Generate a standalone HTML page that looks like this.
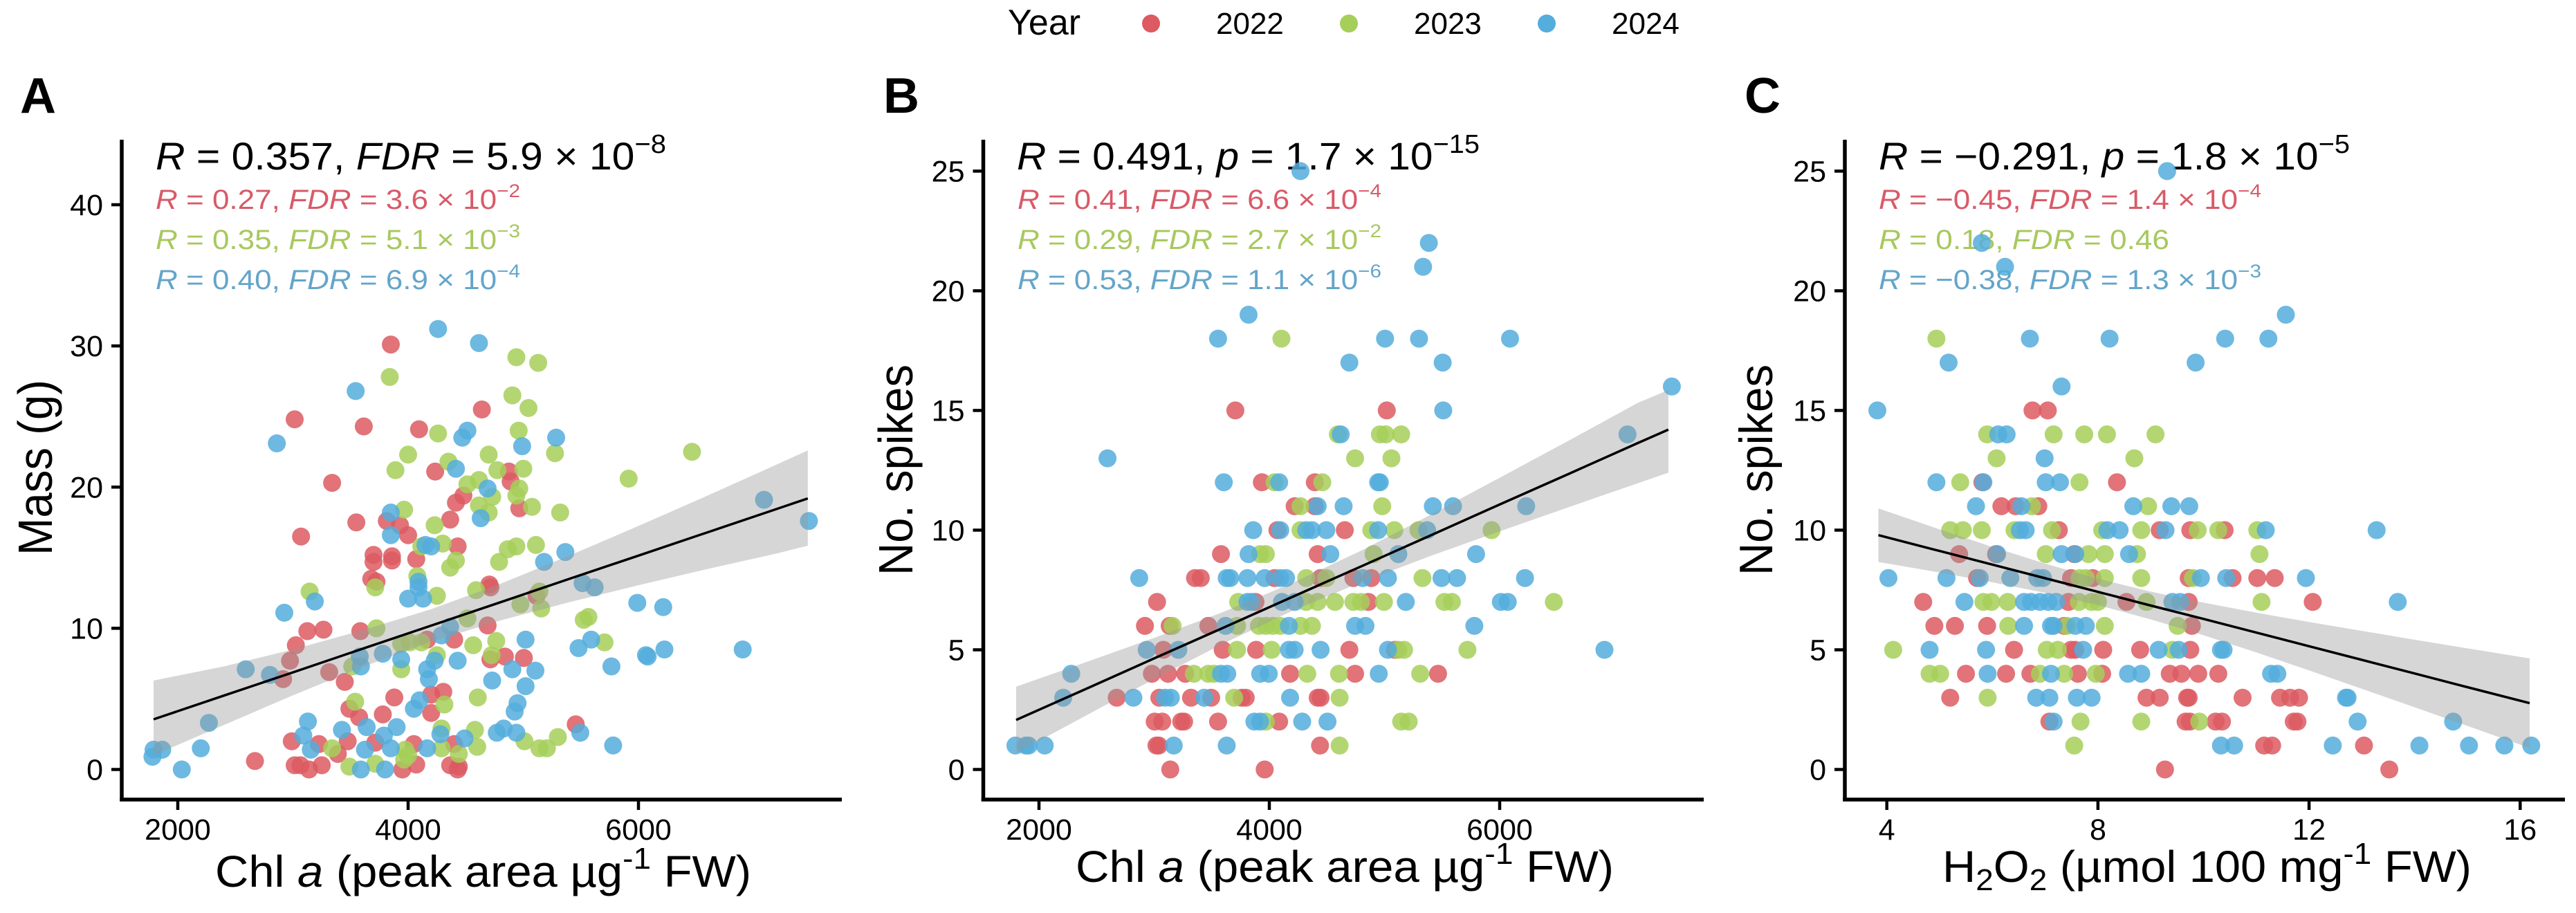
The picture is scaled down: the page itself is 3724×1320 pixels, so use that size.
<!DOCTYPE html>
<html lang="en">
<head>
<meta charset="utf-8">
<title>Chlorophyll and H2O2 correlations</title>
<style>
html,body{margin:0;padding:0;background:#fff;}
svg{display:block;}
text{font-family:"Liberation Sans",Arial,sans-serif;fill:#000;}
.tick{font-size:43px;}
.xt{font-size:64px;}
.big{font-size:56px;}
.sm{font-size:40px;}
.r{fill:#D85A68;}
.g{fill:#A8C85E;}
.b{fill:#64A5C9;}
.i{font-style:italic;}
.letter{font-size:72px;font-weight:bold;}
</style>
</head>
<body>
<svg id="chart" xmlns="http://www.w3.org/2000/svg" width="3724" height="1320" viewBox="0 0 3724 1320">
<rect width="3724" height="1320" fill="#fff"/>

<g>
<text x="1457" y="50" font-size="52">Year</text>
<circle cx="1664" cy="34" r="13" fill="#DC5A62"/>
<text x="1758" y="49" font-size="44">2022</text>
<circle cx="1950" cy="34" r="13" fill="#A6CF59"/>
<text x="2044" y="49" font-size="44">2023</text>
<circle cx="2236" cy="34" r="13" fill="#54ADDC"/>
<text x="2330" y="49" font-size="44">2024</text>
</g>

<text class="letter" x="29" y="163">A</text>
<text class="letter" x="1277" y="163">B</text>
<text class="letter" x="2522" y="163">C</text>

<g>
<text class="big" x="225" y="245" textLength="738" lengthAdjust="spacingAndGlyphs"><tspan class="i">R</tspan> = 0.357, <tspan class="i">FDR</tspan> = 5.9 × 10<tspan font-size="38" dy="-24">−8</tspan></text>
<text class="sm r" x="225" y="302" textLength="527" lengthAdjust="spacingAndGlyphs"><tspan class="i">R</tspan> = 0.27, <tspan class="i">FDR</tspan> = 3.6 × 10<tspan font-size="27" dy="-17">−2</tspan></text>
<text class="sm g" x="225" y="360" textLength="527" lengthAdjust="spacingAndGlyphs"><tspan class="i">R</tspan> = 0.35, <tspan class="i">FDR</tspan> = 5.1 × 10<tspan font-size="27" dy="-17">−3</tspan></text>
<text class="sm b" x="225" y="418" textLength="527" lengthAdjust="spacingAndGlyphs"><tspan class="i">R</tspan> = 0.40, <tspan class="i">FDR</tspan> = 6.9 × 10<tspan font-size="27" dy="-17">−4</tspan></text>
</g>
<g>
<text class="big" x="1470" y="245" textLength="669" lengthAdjust="spacingAndGlyphs"><tspan class="i">R</tspan> = 0.491, <tspan class="i">p</tspan> = 1.7 × 10<tspan font-size="38" dy="-24">−15</tspan></text>
<text class="sm r" x="1471" y="302" textLength="526" lengthAdjust="spacingAndGlyphs"><tspan class="i">R</tspan> = 0.41, <tspan class="i">FDR</tspan> = 6.6 × 10<tspan font-size="27" dy="-17">−4</tspan></text>
<text class="sm g" x="1471" y="360" textLength="526" lengthAdjust="spacingAndGlyphs"><tspan class="i">R</tspan> = 0.29, <tspan class="i">FDR</tspan> = 2.7 × 10<tspan font-size="27" dy="-17">−2</tspan></text>
<text class="sm b" x="1471" y="418" textLength="526" lengthAdjust="spacingAndGlyphs"><tspan class="i">R</tspan> = 0.53, <tspan class="i">FDR</tspan> = 1.1 × 10<tspan font-size="27" dy="-17">−6</tspan></text>
</g>
<g>
<text class="big" x="2716" y="245" textLength="681" lengthAdjust="spacingAndGlyphs"><tspan class="i">R</tspan> = −0.291, <tspan class="i">p</tspan> = 1.8 × 10<tspan font-size="38" dy="-24">−5</tspan></text>
<text class="sm r" x="2716" y="302" textLength="553" lengthAdjust="spacingAndGlyphs"><tspan class="i">R</tspan> = −0.45, <tspan class="i">FDR</tspan> = 1.4 × 10<tspan font-size="27" dy="-17">−4</tspan></text>
<text class="sm g" x="2716" y="360" textLength="420" lengthAdjust="spacingAndGlyphs"><tspan class="i">R</tspan> = 0.18, <tspan class="i">FDR</tspan> = 0.46</text>
<text class="sm b" x="2716" y="418" textLength="553" lengthAdjust="spacingAndGlyphs"><tspan class="i">R</tspan> = −0.38, <tspan class="i">FDR</tspan> = 1.3 × 10<tspan font-size="27" dy="-17">−3</tspan></text>
</g>

<text class="xt" x="311" y="1282" textLength="775" lengthAdjust="spacingAndGlyphs">Chl <tspan class="i">a</tspan> (peak area µg<tspan font-size="44" dy="-26">-1</tspan><tspan dy="26"> FW)</tspan></text>
<text class="xt" x="1555" y="1275" textLength="778" lengthAdjust="spacingAndGlyphs">Chl <tspan class="i">a</tspan> (peak area µg<tspan font-size="44" dy="-26">-1</tspan><tspan dy="26"> FW)</tspan></text>
<text class="xt" x="2808" y="1275" textLength="765" lengthAdjust="spacingAndGlyphs">H<tspan font-size="44" dy="12">2</tspan><tspan dy="-12">O</tspan><tspan font-size="44" dy="12">2</tspan><tspan dy="-12"> (µmol 100 mg</tspan><tspan font-size="44" dy="-26">-1</tspan><tspan dy="26"> FW)</tspan></text>

<text class="xt" transform="translate(75 803) rotate(-90)" x="0" y="0" style="font-size:70px" textLength="254" lengthAdjust="spacingAndGlyphs">Mass (g)</text>
<text class="xt" transform="translate(1319 832) rotate(-90)" x="0" y="0" style="font-size:70px" textLength="305" lengthAdjust="spacingAndGlyphs">No. spikes</text>
<text class="xt" transform="translate(2562 832) rotate(-90)" x="0" y="0" style="font-size:68px" textLength="305" lengthAdjust="spacingAndGlyphs">No. spikes</text>

<g id="plot-layer"></g>
</svg>

<script>
// ---------- Panel A: Chl a vs Mass ----------
const panelAXTicks = [2000, 4000, 6000];
const panelAYTicks = [0, 10, 20, 30, 40];
const panelARed = [[3850,30.1],[3015,24.8],[3615,24.3],[4095,24.1],[4640,25.5],[4235,21.1],[4875,21.1],[3340,20.3],[4890,20.4],[4480,19.4],[4415,18.9],[4965,18.5],[4365,17.7],[3550,17.5],[3815,17.6],[3930,17.3],[3070,16.5],[4000,16.6],[4430,15.8],[3700,15.2],[3700,14.7],[3860,15.1],[3860,14.8],[4070,14.9],[3680,13.5],[3725,13.3],[4705,13.1],[4715,12.9],[5115,12.3],[3125,9.8],[3265,9.9],[3585,9.8],[4690,10.2],[3025,8.8],[2975,7.7],[4165,9.2],[4400,9.2],[4840,8.0],[5005,7.9],[4715,7.8],[2915,6.4],[3315,6.9],[3450,6.2],[3880,5.1],[4305,5.5],[4200,5.3],[3490,4.3],[3575,3.7],[3780,3.9],[4200,4.0],[5455,3.2],[2990,2.0],[3225,1.8],[3475,2.0],[3390,1.1],[3715,1.9],[4050,1.8],[4400,1.8],[2670,0.6],[3015,0.3],[3065,0.3],[3140,0],[3250,0.3],[3950,0],[4070,0.35],[4365,0.3],[4440,0.2],[4430,0]];
const panelAGreen = [[4940,29.2],[5130,28.8],[3840,27.8],[4905,26.5],[5045,25.6],[4960,24.0],[4260,23.8],[5275,22.4],[6465,22.5],[4000,22.3],[4700,22.3],[4350,21.8],[3890,21.2],[5000,21.3],[4775,21.2],[5915,20.6],[4615,20.5],[4515,20.2],[4965,19.9],[4730,19.3],[4940,19.4],[4615,18.7],[4700,18.2],[5075,18.6],[5320,18.2],[3965,18.4],[4230,17.3],[4300,16.0],[4115,15.8],[4940,15.8],[4865,15.6],[5110,15.9],[4415,14.8],[4365,14.3],[4790,14.7],[4080,13.7],[3715,12.9],[3145,12.6],[4250,12.3],[4590,12.7],[5140,12.6],[4975,11.7],[5155,11.4],[5565,10.8],[5525,10.6],[4515,10.7],[3725,10.0],[4115,9.0],[4015,9.0],[3940,8.9],[4765,9.1],[4565,8.8],[5705,9.0],[4250,8.1],[4725,8.1],[3515,7.3],[3940,7.1],[3540,4.8],[4315,4.6],[4605,5.1],[4290,2.9],[4580,2.8],[5300,2.3],[5010,2.0],[5140,1.5],[5205,1.5],[4600,1.6],[4290,1.5],[4440,1.1],[3340,1.5],[3975,1.4],[4000,1.0],[3965,0.7],[3490,0.2],[3715,0.4]];
const panelABlue = [[4260,31.2],[4615,30.2],[3545,26.8],[4515,24.0],[4470,23.5],[5285,23.5],[4990,22.9],[2860,23.1],[4415,21.3],[4690,19.9],[3850,18.2],[4630,17.8],[3850,16.6],[4150,15.9],[4200,15.8],[5365,15.4],[5180,14.7],[4090,13.3],[4090,12.9],[5515,13.2],[5620,12.9],[4000,12.1],[4130,12.1],[3190,11.9],[2925,11.1],[5990,11.8],[6215,11.5],[4365,10.1],[4290,9.5],[5020,9.2],[5590,9.2],[5480,8.6],[6225,8.5],[6065,8.1],[6080,8.0],[6905,8.5],[3780,8.2],[3580,8.0],[3590,7.3],[3940,7.8],[4430,7.7],[4230,7.7],[4165,7.1],[4180,6.4],[2590,7.1],[2800,6.7],[4905,7.1],[5105,7.0],[4730,6.3],[5020,5.9],[5765,7.3],[4100,4.9],[4050,4.3],[4950,4.7],[4925,4.1],[2270,3.3],[3130,3.4],[3090,2.4],[3425,2.8],[3640,3.0],[3900,3.0],[3790,2.4],[4280,2.5],[4770,2.6],[4830,2.9],[4940,2.6],[5495,2.6],[4490,2.2],[5780,1.7],[2200,1.5],[1865,1.4],[1790,1.4],[1780,0.9],[2035,0],[3155,1.4],[3625,1.4],[3850,1.5],[4165,1.5],[3590,0],[3800,0],[7090,19.1],[7480,17.6]];
const panelAFitX = [1790, 2400, 3000, 3600, 4200, 4800, 5400, 6000, 6600, 7200, 7470];
const panelAFitY = [3.55, 5.23, 6.88, 8.54, 10.19, 11.84, 13.5, 15.15, 16.8, 18.45, 19.2];
const panelAUpper = [6.3, 7.3, 8.5, 9.85, 11.35, 13.15, 15.15, 17.25, 19.4, 21.6, 22.6];
const panelALower = [1.0, 3.15, 5.25, 7.25, 9.05, 10.55, 11.85, 13.05, 14.2, 15.3, 15.85];

// ---------- Panel B: Chl a vs No. spikes ----------
const panelBXTicks = [2000, 4000, 6000];
const panelBYTicks = [0, 5, 10, 15, 20, 25];
const panelBRed = [[3705,15],[5020,15],[3935,12],[4395,12],[4220,11],[4395,11],[4070,10],[4655,10],[3580,9],[4420,9],[3355,8],[3405,8],[4045,8],[4445,8],[4730,8],[4885,8],[3025,7],[3880,7],[4860,7],[2920,6],[3135,6],[3470,6],[3080,5],[3595,5],[3885,5],[4695,5],[5090,5],[2980,4],[3120,4],[3270,4],[4180,4],[4745,4],[5465,4],[2675,3],[3045,3],[3320,3],[3495,3],[3795,3],[3760,3],[4420,3],[4445,3],[3005,2],[3070,2],[3235,2],[3260,2],[3555,2],[4085,2],[3020,1],[3040,1],[4440,1],[3140,0],[3960,0]];
const panelBGreen = [[4105,18],[4595,14],[4960,14],[5010,14],[5145,14],[4745,13],[5060,13],[4045,12],[4460,12],[4270,11],[4980,11],[4270,10],[4885,10],[5085,10],[5295,10],[5930,10],[3920,9],[3970,9],[4905,9],[4320,8],[4495,8],[5330,8],[3730,7],[4320,7],[4420,7],[4570,7],[4730,7],[4795,7],[4995,7],[5520,7],[5585,7],[6470,7],[3160,6],[3720,6],[3910,6],[3970,6],[4030,6],[4095,6],[4270,6],[4370,6],[3720,5],[4020,5],[5120,5],[5170,5],[5720,5],[3345,4],[3470,4],[3520,4],[4330,4],[4605,4],[5310,4],[3695,3],[4610,3],[3970,2],[5145,2],[5210,2],[4610,1]];
const panelBBlue = [[4270,25],[5385,22],[5335,21],[3820,19],[3555,18],[5005,18],[5300,18],[6090,18],[4695,17],[5505,17],[7495,16],[5510,15],[4620,14],[7110,14],[2595,13],[3605,12],[4085,12],[4945,12],[4960,12],[4420,11],[4645,11],[5420,11],[5595,11],[6230,11],[3860,10],[4095,10],[4320,10],[4370,10],[4495,10],[4945,10],[5370,10],[3820,9],[4530,9],[5120,9],[5795,9],[2870,8],[3630,8],[3660,8],[3810,8],[3960,8],[4095,8],[4145,8],[4810,8],[5030,8],[5495,8],[5630,8],[6220,8],[3810,7],[3845,7],[4110,7],[4220,7],[5185,7],[6010,7],[6070,7],[3620,6],[4170,6],[4745,6],[4835,6],[5780,6],[2935,5],[3210,5],[4170,5],[4220,5],[4445,5],[5030,5],[6910,5],[2280,4],[3580,4],[3635,4],[3920,4],[3995,4],[4950,4],[2210,3],[2820,3],[3095,3],[3145,3],[3435,3],[4180,3],[3870,2],[3920,2],[4285,2],[4505,2],[1795,1],[1885,1],[1910,1],[2050,1],[3170,1],[3630,1]];
const panelBFitX = [1802, 2400, 3000, 3600, 4200, 4800, 5400, 6000, 6600, 7200, 7465];
const panelBFitY = [2.07, 3.35, 4.64, 5.92, 7.21, 8.49, 9.78, 11.07, 12.35, 13.64, 14.2];
const panelBUpper = [3.46, 4.47, 5.5, 6.58, 7.79, 9.15, 10.64, 12.19, 13.74, 15.32, 15.85];
const panelBLower = [0.68, 2.23, 3.78, 5.26, 6.63, 7.83, 8.92, 9.95, 10.96, 11.96, 12.4];

// ---------- Panel C: H2O2 vs No. spikes ----------
const panelCXTicks = [4, 8, 12, 16];
const panelCYTicks = [0, 5, 10, 15, 20, 25];
const panelCRed = [[6.76,15],[7.05,15],[5.81,12],[8.36,12],[6.17,11],[6.44,11],[6.87,11],[7.26,10],[9.17,10],[9.75,10],[10.4,10],[5.37,9],[6.07,9],[7.55,9],[5.71,8],[7.49,8],[7.9,8],[9.72,8],[10.55,8],[11.02,8],[11.35,8],[4.69,7],[7.44,7],[8.54,7],[9.72,7],[12.07,7],[4.9,6],[5.29,6],[5.9,6],[7.36,6],[9.78,6],[6.41,5],[7.49,5],[7.57,5],[8.1,5],[8.8,5],[9.75,5],[5.5,4],[6.26,4],[6.72,4],[7.62,4],[8.08,4],[9.36,4],[9.58,4],[9.9,4],[10.28,4],[5.2,3],[8.92,3],[9.17,3],[9.69,3],[9.72,3],[10.74,3],[11.45,3],[11.64,3],[11.81,3],[7.08,2],[9.66,2],[9.74,2],[10.23,2],[10.35,2],[11.71,2],[11.78,2],[11.15,1],[11.3,1],[13.04,1],[9.27,0],[13.52,0]];
const panelCGreen = [[4.94,18],[5.9,14],[7.16,14],[7.74,14],[8.17,14],[9.09,14],[6.08,13],[8.69,13],[5.39,12],[7.65,12],[6.75,11],[8.95,11],[5.2,10],[5.44,10],[5.8,10],[6.42,10],[7.13,10],[8.08,10],[8.82,10],[9.89,10],[10.28,10],[11.02,10],[7.01,9],[7.82,9],[8.13,9],[8.74,9],[11.06,9],[7.65,8],[7.77,8],[8.13,8],[8.82,8],[9.8,8],[5.83,7],[5.98,7],[6.29,7],[7.64,7],[7.88,7],[8.0,7],[8.92,7],[11.1,7],[6.3,6],[7.41,6],[8.13,6],[9.51,6],[4.12,5],[7.03,5],[7.24,5],[9.41,5],[4.81,4],[5.01,4],[6.9,4],[7.36,4],[7.96,4],[5.91,3],[7.67,2],[8.82,2],[9.92,2],[7.55,1]];
const panelCBlue = [[9.31,25],[5.8,22],[6.24,21],[11.56,19],[6.71,18],[8.22,18],[10.41,18],[11.23,18],[5.17,17],[9.85,17],[7.31,16],[3.82,15],[6.11,14],[6.27,14],[6.99,13],[4.94,12],[5.83,12],[7.01,12],[7.28,12],[5.69,11],[6.55,11],[8.67,11],[9.39,11],[9.73,11],[6.52,10],[6.63,10],[8.18,10],[8.41,10],[9.28,10],[11.18,10],[13.28,10],[6.09,9],[7.31,9],[7.57,9],[8.59,9],[4.03,8],[5.13,8],[5.76,8],[6.34,8],[6.85,8],[6.96,8],[9.95,8],[10.43,8],[11.94,8],[5.47,7],[6.6,7],[6.73,7],[6.9,7],[7.06,7],[7.21,7],[9.41,7],[9.56,7],[13.68,7],[6.6,6],[7.11,6],[7.16,6],[7.57,6],[7.77,6],[4.81,5],[5.88,5],[7.72,5],[9.15,5],[9.53,5],[10.33,5],[10.38,5],[5.91,4],[7.11,4],[8.57,4],[8.82,4],[11.28,4],[11.4,4],[6.83,3],[7.08,3],[7.6,3],[7.88,3],[12.7,3],[12.73,3],[7.16,2],[12.92,2],[14.73,2],[10.33,1],[10.58,1],[12.45,1],[14.09,1],[15.03,1],[15.7,1],[16.21,1]];
const panelCFitX = [3.84, 5, 6, 7, 8, 9, 10, 11, 12, 13, 14, 15, 16.18];
const panelCFitY = [9.79, 9.13, 8.56, 7.99, 7.42, 6.85, 6.29, 5.72, 5.15, 4.58, 4.01, 3.44, 2.77];
const panelCUpper = [10.91, 10.03, 9.3, 8.6, 7.97, 7.43, 6.97, 6.55, 6.16, 5.79, 5.42, 5.06, 4.64];
const panelCLower = [8.67, 8.23, 7.82, 7.38, 6.87, 6.27, 5.61, 4.89, 4.14, 3.37, 2.6, 1.82, 0.9];

const SVG_NS = 'http://www.w3.org/2000/svg';
const plotLayer = document.getElementById('plot-layer');

function linearScale(d0, d1, r0, r1) {
  return function (v) { return r0 + (v - d0) * (r1 - r0) / (d1 - d0); };
}

function makeNode(tag, parent) {
  const node = document.createElementNS(SVG_NS, tag);
  parent.appendChild(node);
  return node;
}

function drawPanel(cfg) {
  const g = makeNode('g', plotLayer);
  
  

  cfg.series.forEach(function (s) {
    s.points.forEach(function (p) {
      const dot = makeNode('circle', g);
      
      
      dot.setAttribute('cx', cfg.x(p[0]).toFixed(1));
      dot.setAttribute('cy', cfg.y(p[1]).toFixed(1));
      dot.setAttribute('r', 13);
      dot.setAttribute('fill', s.color);
      dot.setAttribute('fill-opacity', 0.85);
    });
  });

  const upperPts = cfg.fitX.map(function (v, i) { return cfg.x(v).toFixed(1) + ',' + cfg.y(cfg.upper[i]).toFixed(1); });
  const lowerPts = cfg.fitX.map(function (v, i) { return cfg.x(v).toFixed(1) + ',' + cfg.y(cfg.lower[i]).toFixed(1); }).reverse();
  const band = makeNode('polygon', g);
  
  
  band.setAttribute('points', upperPts.concat(lowerPts).join(' '));
  band.setAttribute('fill', '#999999');
  band.setAttribute('fill-opacity', 0.4);

  const fit = makeNode('polyline', g);
  
  
  fit.setAttribute('points', cfg.fitX.map(function (v, i) { return cfg.x(v).toFixed(1) + ',' + cfg.y(cfg.fitY[i]).toFixed(1); }).join(' '));
  fit.setAttribute('fill', 'none');
  fit.setAttribute('stroke', '#000');
  fit.setAttribute('stroke-width', 3.5);

  const yAxis = makeNode('line', g);
  
  
  yAxis.setAttribute('x1', cfg.left);
  yAxis.setAttribute('x2', cfg.left);
  yAxis.setAttribute('y1', 202);
  yAxis.setAttribute('y2', 1158.5);
  yAxis.setAttribute('stroke', '#000');
  yAxis.setAttribute('stroke-width', 5.5);

  const xAxis = makeNode('line', g);
  
  
  xAxis.setAttribute('x1', cfg.left - 2.75);
  xAxis.setAttribute('x2', cfg.right);
  xAxis.setAttribute('y1', 1156);
  xAxis.setAttribute('y2', 1156);
  xAxis.setAttribute('stroke', '#000');
  xAxis.setAttribute('stroke-width', 5.5);

  cfg.yTicks.forEach(function (v) {
    const tick = makeNode('line', g);
    
    
    tick.setAttribute('x1', cfg.left - 15);
    tick.setAttribute('x2', cfg.left);
    tick.setAttribute('y1', cfg.y(v));
    tick.setAttribute('y2', cfg.y(v));
    tick.setAttribute('stroke', '#000');
    tick.setAttribute('stroke-width', 4.5);
    const label = makeNode('text', g);
    
    
    label.setAttribute('class', 'tick');
    label.setAttribute('text-anchor', 'end');
    label.setAttribute('x', cfg.left - 27);
    label.setAttribute('y', cfg.y(v) + 15);
    label.textContent = String(v);
  });

  cfg.xTicks.forEach(function (v) {
    const tick = makeNode('line', g);
    
    
    tick.setAttribute('x1', cfg.x(v));
    tick.setAttribute('x2', cfg.x(v));
    tick.setAttribute('y1', 1156);
    tick.setAttribute('y2', 1171);
    tick.setAttribute('stroke', '#000');
    tick.setAttribute('stroke-width', 4.5);
    const label = makeNode('text', g);
    
    
    label.setAttribute('class', 'tick');
    label.setAttribute('text-anchor', 'middle');
    label.setAttribute('x', cfg.x(v));
    label.setAttribute('y', 1214);
    label.textContent = String(v);
  });
}

const RED = '#DC5A62';
const GREEN = '#A6CF59';
const BLUE = '#54ADDC';

drawPanel({
  id: 'panel-a', left: 176, right: 1217,
  x: linearScale(2000, 6000, 257, 923),
  y: linearScale(0, 40, 1112.5, 296),
  xTicks: panelAXTicks, yTicks: panelAYTicks,
  series: [{ year: 2022, color: RED, points: panelARed }, { year: 2023, color: GREEN, points: panelAGreen }, { year: 2024, color: BLUE, points: panelABlue }],
  fitX: panelAFitX, fitY: panelAFitY, upper: panelAUpper, lower: panelALower
});
drawPanel({
  id: 'panel-b', left: 1421.5, right: 2463,
  x: linearScale(2000, 6000, 1502, 2168),
  y: linearScale(0, 25, 1112.5, 247.4),
  xTicks: panelBXTicks, yTicks: panelBYTicks,
  series: [{ year: 2022, color: RED, points: panelBRed }, { year: 2023, color: GREEN, points: panelBGreen }, { year: 2024, color: BLUE, points: panelBBlue }],
  fitX: panelBFitX, fitY: panelBFitY, upper: panelBUpper, lower: panelBLower
});
drawPanel({
  id: 'panel-c', left: 2667, right: 3708,
  x: linearScale(4, 16, 2727.7, 3643.3),
  y: linearScale(0, 25, 1112.5, 247.4),
  xTicks: panelCXTicks, yTicks: panelCYTicks,
  series: [{ year: 2022, color: RED, points: panelCRed }, { year: 2023, color: GREEN, points: panelCGreen }, { year: 2024, color: BLUE, points: panelCBlue }],
  fitX: panelCFitX, fitY: panelCFitY, upper: panelCUpper, lower: panelCLower
});
</script>
</body>
</html>
